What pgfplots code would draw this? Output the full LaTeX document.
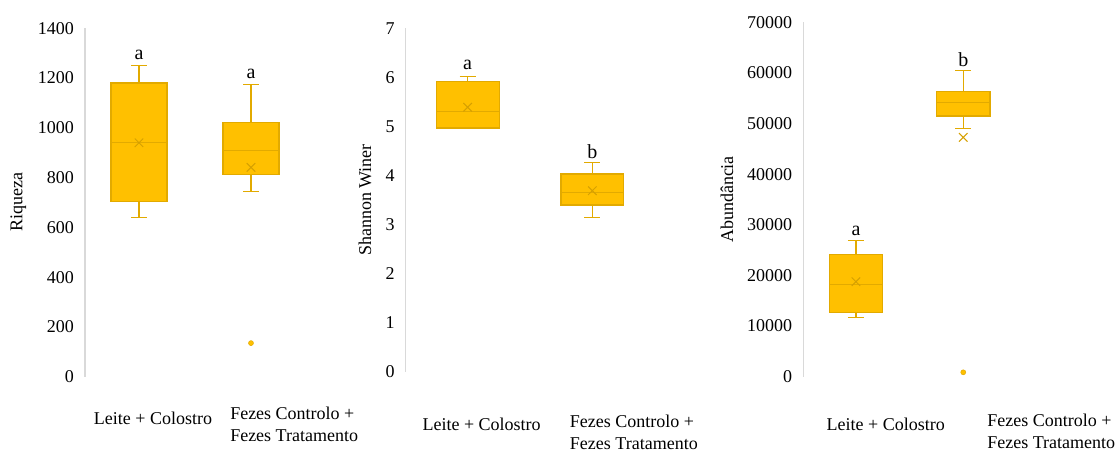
\documentclass[border=0pt]{standalone}
\usepackage{pgfplots}
\pgfplotsset{compat=1.18}
\usepackage{fontspec}
\setmainfont{Liberation Serif}
\definecolor{gold}{RGB}{255,192,0}
\definecolor{edge}{RGB}{226,170,0}
\definecolor{meanc}{RGB}{214,160,0}
\definecolor{axgray}{RGB}{217,217,217}
\tikzset{lab/.style={font=\fontsize{18}{22}\selectfont, inner sep=0pt},
  sig/.style={font=\fontsize{20}{24}\selectfont, inner sep=0pt}}
\pgfplotsset{
  panel/.style={
    scale only axis, anchor=south west, clip=false,
    axis lines*=left,
    x axis line style={draw=none},
    y axis line style={draw=axgray, line width=1.3pt, -},
    xtick=\empty,
    tick style={draw=none},
    tick label style={font=\fontsize{18}{22}\selectfont},
    yticklabel style={inner sep=0pt, xshift=-11pt},
    /pgf/number format/assume math mode=true,
    /pgf/number format/1000 sep={},
    scaled y ticks=false,
    every axis y label/.style={rotate=90, anchor=center, font=\fontsize{18}{22}\selectfont},
    xmax=2.5,
  },
  bx/.style={fill=gold, draw=edge, line width=1.3pt, mark=none},
  ln/.style={draw=edge, line width=1.3pt, mark=none},
  outl/.style={only marks, mark=*, mark size=2.5pt, mark options={fill=gold, draw=edge, line width=0.5pt}},
  meanx/.style={only marks, mark=x, mark size=6pt, mark options={draw=meanc, line width=1pt}},
}
\begin{document}
\begin{tikzpicture}
\useasboundingbox (0,0) rectangle (1120pt,452pt);
% Panel 1: Riqueza
\begin{axis}[panel, at={(85pt,75.3pt)}, width=222pt, height=348.4pt,
  xmin=0.518, ymin=0, ymax=1400, ytick distance=200,
  ylabel={Riqueza}, ylabel style={at={(axis description cs:-0.3,0.5)}}]
% box 1: lw 640, q1 705, med 940, q3 1180, uw 1250
\addplot[ln] coordinates {(1,1180) (1,1250)};
\addplot[ln] coordinates {(0.93,1250) (1.07,1250)};
\addplot[ln] coordinates {(1,705) (1,640)};
\addplot[ln] coordinates {(0.93,640) (1.07,640)};
\addplot[bx] coordinates {(0.75,705) (1.25,705) (1.25,1180) (0.75,1180)} -- cycle;
\addplot[ln] coordinates {(0.75,940) (1.25,940)};
% box 2: lw 745, q1 813, med 908, q3 1022, uw 1175
\addplot[ln] coordinates {(2,1022) (2,1175)};
\addplot[ln] coordinates {(1.93,1175) (2.07,1175)};
\addplot[ln] coordinates {(2,813) (2,745)};
\addplot[ln] coordinates {(1.93,745) (2.07,745)};
\addplot[bx] coordinates {(1.75,813) (2.25,813) (2.25,1022) (1.75,1022)} -- cycle;
\addplot[ln] coordinates {(1.75,908) (2.25,908)};
\addplot[outl] coordinates {(2,135)};
\addplot[meanx] coordinates {(1,940) (2,841)};
\node[sig] at (axis cs:1,1293) {a};
\node[sig] at (axis cs:2,1217) {a};
\node[lab, anchor=center] at (axis cs:1.125,-166) {Leite + Colostro};
\node[lab, anchor=west, align=left] at (axis cs:1.813,-190) {Fezes Controlo +\\Fezes Tratamento};
\end{axis}
% Panel 2: Shannon Winer
\begin{axis}[panel, at={(405.7pt,80.3pt)}, width=249pt, height=343.4pt,
  xmin=0.503, ymin=0, ymax=7, ytick distance=1,
  ylabel={Shannon Winer}, ylabel style={at={(axis description cs:-0.163,0.5)}}]
% box 1: lw 4.96, q1 4.97, med 5.30, q3 5.91, uw 6.02
\addplot[ln] coordinates {(1,5.91) (1,6.02)};
\addplot[ln] coordinates {(0.935,6.02) (1.065,6.02)};
\addplot[ln] coordinates {(0.935,4.96) (1.065,4.96)};
\addplot[bx] coordinates {(0.7475,4.97) (1.2525,4.97) (1.2525,5.91) (0.7475,5.91)} -- cycle;
\addplot[ln] coordinates {(0.7475,5.30) (1.2525,5.30)};
% box 2: lw 3.14, q1 3.40, med 3.65, q3 4.03, uw 4.27
\addplot[ln] coordinates {(2,4.03) (2,4.27)};
\addplot[ln] coordinates {(1.935,4.27) (2.065,4.27)};
\addplot[ln] coordinates {(2,3.40) (2,3.14)};
\addplot[ln] coordinates {(1.935,3.14) (2.065,3.14)};
\addplot[bx] coordinates {(1.7475,3.40) (2.2525,3.40) (2.2525,4.03) (1.7475,4.03)} -- cycle;
\addplot[ln] coordinates {(1.7475,3.65) (2.2525,3.65)};
\addplot[meanx] coordinates {(1,5.39) (2,3.69)};
\node[sig] at (axis cs:1,6.25) {a};
\node[sig] at (axis cs:2,4.48) {b};
\node[lab, anchor=center] at (axis cs:1.112,-1.066) {Leite + Colostro};
\node[lab, anchor=west, align=left] at (axis cs:1.819,-1.229) {Fezes Controlo +\\Fezes Tratamento};
\end{axis}
% Panel 3: Abundancia
\begin{axis}[panel, at={(803.3pt,75.3pt)}, width=213.6pt, height=354.4pt,
  xmin=0.509, ymin=0, ymax=70000, ytick distance=10000,
  ylabel={Abundância}, ylabel style={at={(axis description cs:-0.357,0.5)}}]
% box 1: lw 11650, q1 12640, med 18250, q3 24170, uw 26860
\addplot[ln] coordinates {(1,24170) (1,26860)};
\addplot[ln] coordinates {(0.925,26860) (1.075,26860)};
\addplot[ln] coordinates {(1,12640) (1,11650)};
\addplot[ln] coordinates {(0.925,11650) (1.075,11650)};
\addplot[bx] coordinates {(0.75,12640) (1.25,12640) (1.25,24170) (0.75,24170)} -- cycle;
\addplot[ln] coordinates {(0.75,18250) (1.25,18250)};
% box 2: lw 49060, q1 51490, med 54110, q3 56290, uw 60510
\addplot[ln] coordinates {(2,56290) (2,60510)};
\addplot[ln] coordinates {(1.925,60510) (2.075,60510)};
\addplot[ln] coordinates {(2,51490) (2,49060)};
\addplot[ln] coordinates {(1.925,49060) (2.075,49060)};
\addplot[bx] coordinates {(1.75,51490) (2.25,51490) (2.25,56290) (1.75,56290)} -- cycle;
\addplot[ln] coordinates {(1.75,54110) (2.25,54110)};
\addplot[outl] coordinates {(2,870)};
\addplot[meanx] coordinates {(1,18760) (2,47280)};
\node[sig] at (axis cs:1,28835) {a};
\node[sig] at (axis cs:2,62550) {b};
\node[lab, anchor=center] at (axis cs:1.277,-9342) {Leite + Colostro};
\node[lab, anchor=west, align=left] at (axis cs:2.223,-10700) {Fezes Controlo +\\Fezes Tratamento};
\end{axis}
\end{tikzpicture}
\end{document}
